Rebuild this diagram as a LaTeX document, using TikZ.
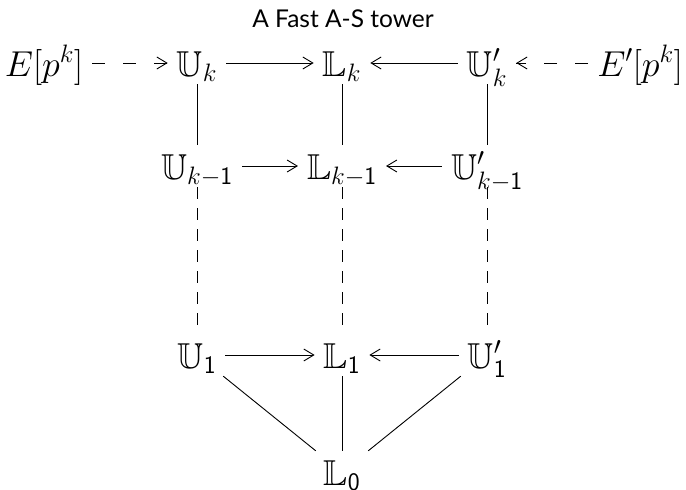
\RequirePackage{fix-cm}
\documentclass[tikz,border=0pt]{standalone}
\usepackage{amsmath,amssymb}
\usepackage{fontspec}
\setmainfont{Lato}
\usetikzlibrary{arrows.meta}
\tikzset{
 obj/.style={anchor=base, inner xsep=9pt, inner ysep=4pt, text height=30pt, text depth=4pt, font=\fontsize{36}{42}\selectfont},
 ar/.style={-{Straight Barb[length=10pt,width=12pt]}, line width=0.9pt},
 dshline/.style={line width=0.9pt, dash pattern=on 13pt off 18pt},
 ln/.style={line width=0.9pt},
 dln/.style={ln, dash pattern=on 12pt off 9pt},
 ttl/.style={anchor=base, inner sep=0pt, font=\fontsize{24.5}{29}\selectfont},
}
\newcommand\dg[1]{\mathsf{#1}}
\begin{document}
\begin{tikzpicture}[x=1pt,y=1pt]
\useasboundingbox (0,0) rectangle (686,-490);
\node[ttl] (title) at (343,-27) {A Fast A-S tower};
% row 1
\node[obj] (e)  at (44,-76) {$E[p^k]$};
\node[obj] (uk) at (197,-76) {$\mathbb{U}_k$};
\node[obj] (lk) at (342,-76) {$\mathbb{L}_k$};
\node[obj] (vk) at (487,-76) {$\mathbb{U}'_k$};
\node[obj] (f)  at (640,-76) {$E'[p^k]$};
% row 2
\node[obj] (uk1) at (197,-179) {$\mathbb{U}_{k-\dg{1}}$};
\node[obj] (lk1) at (342,-179) {$\mathbb{L}_{k-\dg{1}}$};
\node[obj] (vk1) at (487,-179) {$\mathbb{U}'_{k-\dg{1}}$};
% row 3
\node[obj] (u1) at (197,-368) {$\mathbb{U}_{\dg{1}}$};
\node[obj] (l1) at (342,-368) {$\mathbb{L}_{\dg{1}}$};
\node[obj] (v1) at (487,-368) {$\mathbb{U}'_{\dg{1}}$};
% row 4
\node[obj] (l0) at (342,-485) {$\mathbb{L}_{\dg{0}}$};
% horizontal
\draw[dshline] (e) -- (uk);
\draw[ar] ([xshift=-3pt]uk.west) -- (uk.west);
\draw[ar] (uk) -- (lk);
\draw[ar] (vk) -- (lk);
\draw[dshline] (f) -- (vk);
\draw[ar] ([xshift=3pt]vk.east) -- (vk.east);
\draw[ar] (uk1) -- (lk1);
\draw[ar] (vk1) -- (lk1);
\draw[ar] (u1) -- (l1);
\draw[ar] (v1) -- (l1);
% vertical
\draw[ln] (uk) -- (uk1);
\draw[ln] (lk) -- (lk1);
\draw[ln] (vk) -- (vk1);
\draw[dln] (uk1) -- (u1);
\draw[dln] (lk1) -- (l1);
\draw[dln] (vk1) -- (v1);
\draw[ln] (l1) -- (l0);
\draw[ln] (u1) -- (l0);
\draw[ln] (v1) -- (l0);
\end{tikzpicture}
\end{document}
